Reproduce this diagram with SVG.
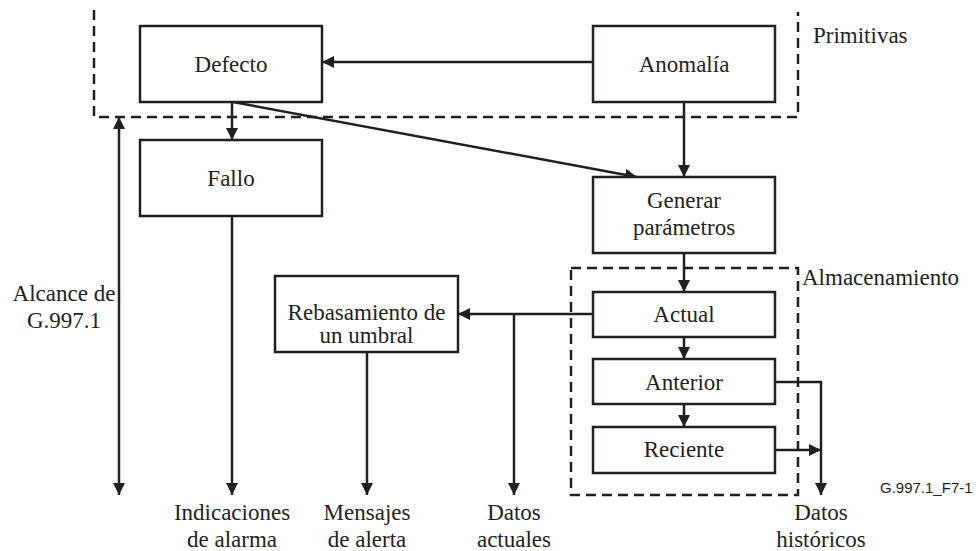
<svg xmlns="http://www.w3.org/2000/svg" width="978" height="551" viewBox="0 0 978 551">
<style>
.box{fill:#fff;stroke:#231f20;stroke-width:2.5}
.dash{fill:none;stroke:#231f20;stroke-width:2.5;stroke-dasharray:10 6}
.ln{fill:none;stroke:#231f20;stroke-width:2.5}
.t{font-family:'Liberation Serif','DejaVu Serif',serif;font-size:23px;fill:#231f20}
.c{text-anchor:middle}
.code{font-family:'Liberation Sans',Arial,sans-serif;font-size:15px;fill:#231f20}
</style>
<defs>
<marker id="ah" markerUnits="userSpaceOnUse" markerWidth="13" markerHeight="13" refX="12" refY="6" orient="auto-start-reverse">
<path d="M0,0 L12,6 L0,12 z" fill="#231f20"/>
</marker>
</defs>
<g id="regions">
<path class="dash" d="M94,10 V117 H798 V12"/>
<text x="813" y="43" class="t" font-family="Liberation Serif, serif">Primitivas</text>
<rect class="dash" x="571" y="268" width="227" height="227"/>
<text x="802" y="285" class="t" font-family="Liberation Serif, serif">Almacenamiento</text>
<text x="64" y="301" class="t c" font-family="Liberation Serif, serif">Alcance de</text>
<text x="64" y="328" class="t c" font-family="Liberation Serif, serif">G.997.1</text>
<text x="880" y="493" class="code">G.997.1_F7-1</text>
</g>
<g id="connectors">
<line class="ln" x1="593" y1="62" x2="322" y2="62" marker-end="url(#ah)"/>
<line class="ln" x1="232" y1="102" x2="232" y2="140" marker-end="url(#ah)"/>
<line class="ln" x1="233" y1="102" x2="637" y2="177" marker-end="url(#ah)"/>
<line class="ln" x1="684" y1="102" x2="684" y2="177" marker-end="url(#ah)"/>
<line class="ln" x1="684" y1="253" x2="684" y2="292" marker-end="url(#ah)"/>
<line class="ln" x1="684" y1="337" x2="684" y2="359" marker-end="url(#ah)"/>
<line class="ln" x1="684" y1="404" x2="684" y2="427" marker-end="url(#ah)"/>
<line class="ln" x1="119" y1="117" x2="119" y2="495" marker-start="url(#ah)" marker-end="url(#ah)"/>
<line class="ln" x1="232" y1="216" x2="232" y2="495" marker-end="url(#ah)"/>
<line class="ln" x1="593" y1="314" x2="458" y2="314" marker-end="url(#ah)"/>
<line class="ln" x1="514" y1="314" x2="514" y2="495" marker-end="url(#ah)"/>
<line class="ln" x1="367" y1="352" x2="367" y2="495" marker-end="url(#ah)"/>
<polyline class="ln" points="775,382 821,382 821,495" marker-end="url(#ah)"/>
<line class="ln" x1="775" y1="450" x2="821" y2="450" marker-end="url(#ah)"/>
</g>
<g class="t" font-family="Liberation Serif, serif">
<g id="defecto"><rect class="box" x="140" y="26" width="182" height="76"/><text x="231" y="72" class="t c">Defecto</text></g>
<g id="anomalia"><rect class="box" x="593" y="26" width="182" height="76"/><text x="684" y="72" class="t c">Anomalía</text></g>
<g id="fallo"><rect class="box" x="140" y="140" width="182" height="76"/><text x="231" y="186" class="t c">Fallo</text></g>
<g id="generar"><rect class="box" x="593" y="177" width="182" height="76"/><text x="684" y="208" class="t c">Generar</text><text x="684" y="235" class="t c">parámetros</text></g>
<g id="rebasamiento"><rect class="box" x="275" y="276" width="183" height="76"/><text x="366.5" y="320" class="t c">Rebasamiento de</text><text x="366.5" y="343" class="t c">un umbral</text></g>
<g id="actual"><rect class="box" x="593" y="292" width="182" height="45"/><text x="684" y="322" class="t c">Actual</text></g>
<g id="anterior"><rect class="box" x="593" y="359" width="182" height="45"/><text x="684" y="390" class="t c">Anterior</text></g>
<g id="reciente"><rect class="box" x="593" y="427" width="182" height="46"/><text x="684" y="457" class="t c">Reciente</text></g>
<g id="outputs">
<text x="232" y="520" class="t c">Indicaciones</text><text x="232" y="547" class="t c">de alarma</text>
<text x="367" y="520" class="t c">Mensajes</text><text x="367" y="547" class="t c">de alerta</text>
<text x="514" y="520" class="t c">Datos</text><text x="514" y="547" class="t c">actuales</text>
<text x="821" y="520" class="t c">Datos</text><text x="821" y="547" class="t c">históricos</text>
</g>
</g>
</svg>
